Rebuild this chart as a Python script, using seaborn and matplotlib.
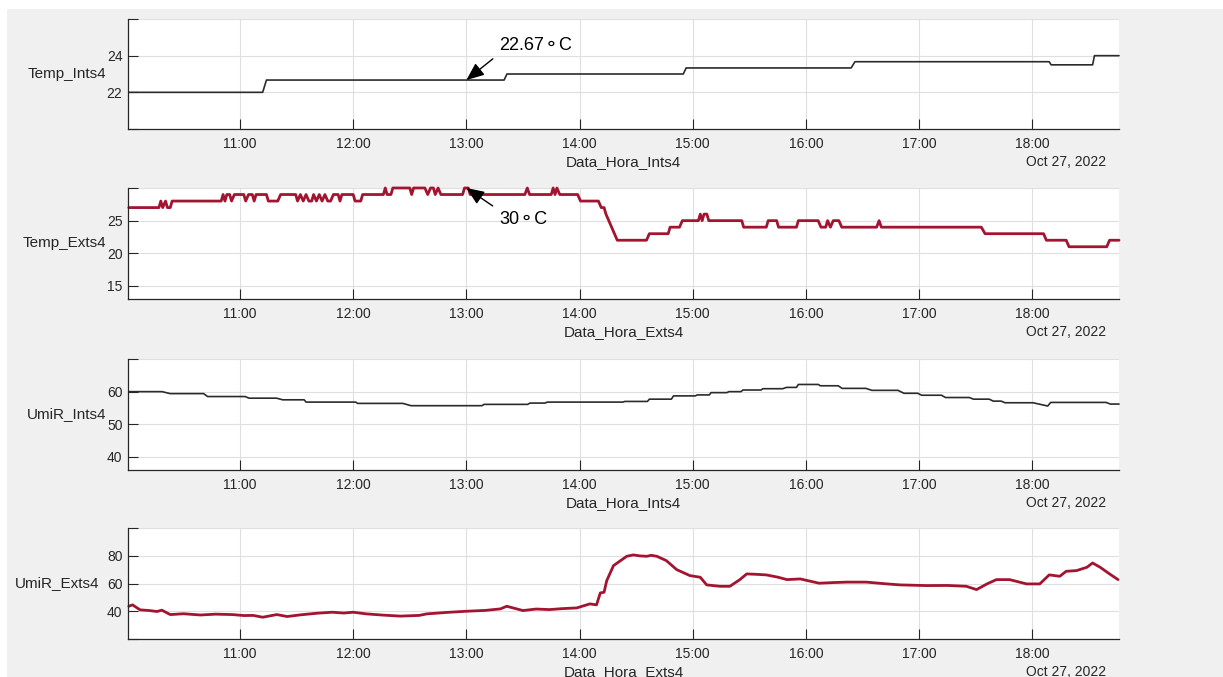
import matplotlib
matplotlib.use("Agg")
import matplotlib.pyplot as plt
import seaborn as sns
import pandas as pd
import numpy as np
from matplotlib import dates as mdates
from matplotlib.patches import Rectangle
from matplotlib.ticker import FixedLocator

# ---------------- data (minutes after 10:00 on Oct 27, 2022) ----------------
temp_int_min = [1, 72, 74, 200, 201.5, 295, 296.5, 384, 386, 489, 490, 512, 513, 526]
temp_int_val = [22, 22, 22.67, 22.67, 23, 23, 23.33, 23.33, 23.67, 23.67, 23.5, 23.5, 24, 24]

temp_ext_min = [1, 17, 18, 19, 20.5, 21.5, 23, 24,
                50, 51, 52, 53, 54.5, 55.5, 57, 62, 63, 64.5, 66.5, 67.5, 68.5, 74, 75, 80, 81.5,
                89.5, 90.5, 92, 93.5, 95, 96.5, 98, 99, 100.5, 102, 103.5, 105, 106.5, 108, 109.5,
                112, 113, 114, 120, 121, 124, 125, 136, 137, 138, 140, 141, 150, 151, 152, 158,
                159.5, 161, 162.5, 163.5, 165, 166.5, 178, 179, 181, 182, 211, 212.3, 213.5,
                225, 226, 227, 228, 229.5, 239, 240.5, 250, 251.5, 253, 254, 255.5, 257, 258.5,
                260, 275.5, 277, 287, 288, 293, 294.5, 303, 304, 305, 306, 307.5, 308.5, 326,
                327, 339, 340, 344.5, 345.5, 355, 356, 366.5, 368, 370.5, 371.5, 373, 374.5,
                377.5, 379, 397.5, 398.8, 400, 453, 455, 486, 487.5, 498, 499.5, 519.5, 521, 526]
temp_ext_val = [27, 27, 28, 27, 28, 27, 27, 28,
                28, 29, 28, 29, 29, 28, 29, 29, 28, 29, 29, 28, 29, 29, 28, 28, 29,
                29, 28, 29, 28, 29, 28, 28, 29, 28, 29, 28, 29, 28, 28, 29,
                29, 28, 29, 29, 28, 28, 29, 29, 30, 29, 29, 30, 30, 29, 30, 30,
                29, 30, 30, 29, 30, 29, 29, 30, 30, 29, 29, 30, 29,
                29, 30, 29, 30, 29, 29, 28, 28, 27, 27, 26, 25, 24, 23,
                22, 22, 23, 23, 24, 24, 25, 25, 26, 25, 26, 26, 25, 25,
                24, 24, 25, 25, 24, 24, 25, 25, 24, 24, 25, 24, 25,
                25, 24, 24, 25, 24, 24, 23, 23, 22, 22, 21, 21, 22, 22]

umi_int_min = [1, 18.7, 22.9, 40.7, 42.8, 62.7, 64.8, 79.4, 82.6, 94, 95, 121.3, 122.4, 146.4,
               150.6, 188.3, 189.3, 212.5, 213.7, 221.7, 222.9, 263, 264, 276, 277, 288.7,
               289.8, 301.4, 302.4, 308.8, 309.7, 318.1, 319.2, 325.6, 326.6, 336.2, 337.2,
               347.7, 349.7, 355, 356, 366.6, 367.6, 377.1, 379.2, 391.8, 395, 408.8, 412,
               419.3, 421.4, 431.9, 434, 446.7, 448.8, 457.2, 459.3, 463.5, 465.6, 480.4,
               488.2, 489.8, 519.2, 521.4, 526]
umi_int_val = [60, 60, 59.4, 59.4, 58.5, 58.5, 58, 58, 57.5, 57.5, 56.8, 56.8, 56.4, 56.4,
               55.7, 55.7, 56.1, 56.1, 56.5, 56.5, 56.8, 56.8, 57, 57, 57.7, 57.7,
               58.7, 58.7, 59, 59, 59.7, 59.7, 60, 60, 60.5, 60.5, 60.9,
               60.9, 61.3, 61.3, 62.2, 62.2, 61.8, 61.8, 61, 61, 60.4, 60.4, 59.5,
               59.5, 58.9, 58.9, 58.2, 58.2, 57.7, 57.7, 57.1, 57.1, 56.6, 56.6,
               55.6, 56.7, 56.7, 56.2, 56.2]

umi_ext_min = [1, 3, 7, 12, 16, 18.5, 23, 30, 39, 47, 56, 62, 67, 72, 79.5, 85, 92, 101, 109,
               115, 120, 127, 136, 145, 155, 159, 170, 180, 190, 198, 201.4, 210, 217, 224,
               231, 238.5, 245.5, 249, 251, 253, 254.4, 258, 265, 268.5, 272, 275.6, 278, 281,
               286, 291.5, 298.5, 304, 307.4, 314.4, 319.7, 325, 328.6, 334, 339, 345, 350,
               357, 367, 375, 382, 392, 403, 410, 424, 435, 445, 450.5, 456, 461, 468, 477,
               484, 489, 494.6, 498, 503.5, 509, 512, 516, 521, 525.5]
umi_ext_val = [43.6, 44.6, 41, 40.5, 39.8, 40.8, 37.6, 38.2, 37.3, 37.9, 37.6, 36.9, 37, 35.7,
               37.6, 36.2, 37.4, 38.6, 39.3, 38.7, 39.3, 38.1, 37.2, 36.5, 37, 38.1, 39.2,
               40, 40.6, 41.7, 43.6, 40.5, 41.6, 41.2, 41.9, 42.4, 45.3, 44.6, 53.2, 53.7, 62,
               72.9, 79.6, 80.6, 79.9, 79.6, 80.3, 79.6, 76.5, 70, 65.7, 64.5, 59, 58, 58,
               62.8, 66.9, 66.6, 66.2, 64.6, 62.8, 63.3, 60.2, 60.7, 61, 61, 59.7, 59, 58.5,
               58.6, 58, 55.6, 59.7, 62.8, 62.8, 59.7, 59.7, 66.2, 65.2, 68.8, 69.3, 71.7,
               74.8, 71.7, 66.9, 62.8]

ylabels = ["Temp_Ints4", "Temp_Exts4", "UmiR_Ints4", "UmiR_Exts4"]
xlabels = ["Data_Hora_Ints4", "Data_Hora_Exts4", "Data_Hora_Ints4", "Data_Hora_Exts4"]
ylims = [(20, 26), (13, 30), (36, 70), (20, 100)]
yticks = [[20, 22, 24, 26], [15, 20, 25, 30], [40, 50, 60, 70], [20, 40, 60, 80, 100]]
yticklabels = [["", "22", "24", ""], ["15", "20", "25", ""], ["40", "50", "60", ""],
               ["", "40", "60", "80", ""]]
date_text = "Oct 27, 2022"
annot_texts = ["22.67\u26acC", "30\u26acC"]

# ---------------- style ----------------
sns.set_theme(style="white")
plt.rcParams["font.family"] = ["Liberation Sans", "DejaVu Sans"]

W, H = 1223, 677
fig = plt.figure(figsize=(W / 100, H / 100), dpi=100, facecolor="white")
fig.patches.append(Rectangle((7 / W, 0), 1, (H - 9) / H, transform=fig.transFigure,
                             facecolor="#F0F0F0", edgecolor="none", zorder=-10))

base = pd.Timestamp("2022-10-27 10:00")


def to_time(mins):
    return base + pd.to_timedelta(np.asarray(mins, dtype=float), unit="min")


series = [(temp_int_min, temp_int_val), (temp_ext_min, temp_ext_val),
          (umi_int_min, umi_int_val), (umi_ext_min, umi_ext_val)]
colors = ["#2b2b2b", "#A2142F", "#2b2b2b", "#A2142F"]
lws = [1.2, 2.0, 1.2, 2.0]
boxes = [(19, 129), (188, 299), (359, 470), (528, 639)]
left_px, right_px = 128, 1119
ylabel_right = [106, 106, 106, 99]
axis_col = "#262626"

axes = []
for i in range(4):
    top, bot = boxes[i]
    ax = fig.add_axes([left_px / W, 1 - bot / H, (right_px - left_px) / W, (bot - top) / H])
    ax.set_facecolor("white")
    df = pd.DataFrame({"t": to_time(series[i][0]), "v": series[i][1]})
    sns.lineplot(data=df, x="t", y="v", ax=ax, color=colors[i], linewidth=lws[i],
                 estimator=None, sort=False)
    for ln in ax.lines:
        ln.set_clip_on(False)
        ln.set_zorder(3)
        ln.set_solid_joinstyle("round")
    ax.set_xlim(to_time([0.6])[0], to_time([526])[0])
    ax.set_ylim(*ylims[i])
    ax.yaxis.set_major_locator(FixedLocator(yticks[i]))
    ax.set_yticklabels(yticklabels[i])
    ax.xaxis.set_major_locator(mdates.HourLocator())
    ax.xaxis.set_major_formatter(mdates.DateFormatter("%H:%M"))
    ax.grid(True, color="#DFDFDF", linewidth=0.8)
    ax.set_axisbelow(True)
    for s in ["top", "right"]:
        ax.spines[s].set_visible(False)
    for s in ["left", "bottom"]:
        ax.spines[s].set_color(axis_col)
        ax.spines[s].set_linewidth(0.9)
        ax.spines[s].set_zorder(4)
    ax.tick_params(axis="both", direction="in", length=7, width=0.8, color=axis_col,
                   labelsize=10, labelcolor=axis_col, left=True, bottom=True)
    ax.tick_params(axis="x", pad=6)
    ax.tick_params(axis="y", pad=4)
    h = bot - top
    ax.set_ylabel(ylabels[i], rotation=0, ha="right", va="center", fontsize=11, color=axis_col)
    ax.yaxis.set_label_coords(-(left_px - ylabel_right[i]) / (right_px - left_px), 0.5)
    ax.set_xlabel(xlabels[i], fontsize=11, color=axis_col, va="center")
    ax.xaxis.set_label_coords(0.5, -33 / h)
    ax.text(0.987, -33 / h, date_text, transform=ax.transAxes, ha="right", va="center",
            fontsize=10, color=axis_col)
    axes.append(ax)

arrow = dict(arrowstyle="-|>,head_length=0.6,head_width=0.25", color="black", lw=1.0,
             mutation_scale=18, shrinkA=3, shrinkB=0)
axes[0].annotate(annot_texts[0], xy=(to_time([180])[0], 22.67), xytext=(33, 35),
                 textcoords="offset pixels", ha="left", va="center", fontsize=13,
                 color="black", arrowprops=dict(arrow, relpos=(0, 0)), zorder=6)
axes[1].annotate(annot_texts[1], xy=(to_time([180])[0], 30), xytext=(33, -31),
                 textcoords="offset pixels", ha="left", va="center", fontsize=13,
                 color="black", arrowprops=dict(arrow, relpos=(0, 1)), zorder=6)

fig.savefig("out.png", dpi=100, facecolor=fig.get_facecolor())
